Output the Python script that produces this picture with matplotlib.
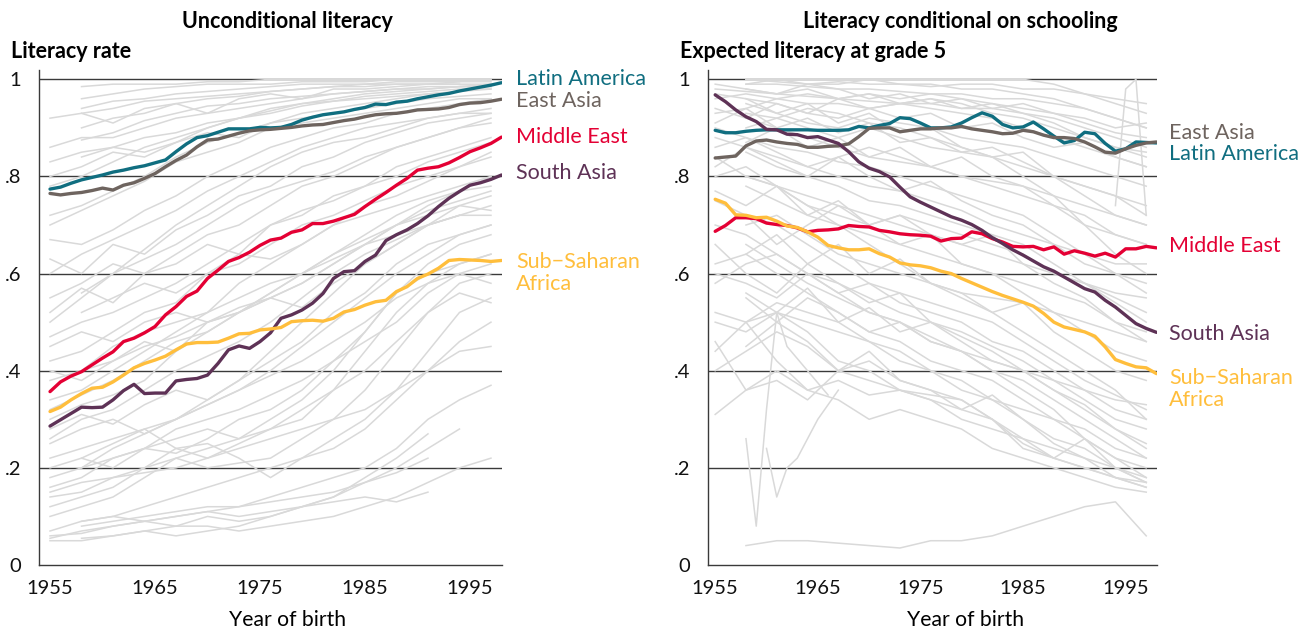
import numpy as np
import matplotlib
matplotlib.use('Agg')
import matplotlib.pyplot as plt

plt.rcParams['font.family'] = ['Lato', 'DejaVu Sans']

years = np.arange(1955, 1999)
grey_years = np.arange(1955, 1998, 3)   # grey country lines read every 3 years

# ---- unconditional literacy, regional averages
unc_latam = [.774, .778, .786, .793, .798, .803, .809, .813, .818, .822,
             .828, .834, .851, .867, .880, .884, .891, .898, .898, .898,
             .901, .900, .901, .907, .916, .922, .927, .930, .933, .938,
             .942, .949, .948, .953, .955, .960, .964, .968, .971, .976,
             .980, .984, .988, .993]
unc_easia = [.765, .762, .765, .767, .771, .776, .772, .782, .787, .796,
             .806, .820, .833, .844, .861, .875, .877, .883, .889, .894,
             .896, .897, .899, .901, .904, .906, .907, .911, .915, .918,
             .923, .927, .929, .930, .933, .937, .938, .939, .942, .948,
             .951, .952, .955, .959]
unc_mideast = [.357, .377, .389, .398, .412, .426, .439, .460, .467, .478,
               .491, .515, .532, .553, .564, .590, .607, .625, .633, .644,
               .658, .669, .673, .685, .690, .703, .703, .708, .715, .722,
               .738, .753, .767, .782, .796, .813, .817, .820, .828, .839,
               .851, .859, .868, .881]
unc_sasia = [.286, .299, .312, .325, .324, .325, .340, .359, .372, .353,
             .354, .354, .379, .382, .384, .391, .415, .443, .451, .446,
             .460, .478, .508, .515, .525, .539, .559, .590, .604, .606,
             .625, .638, .668, .680, .690, .703, .719, .738, .755, .769,
             .782, .787, .794, .803]
unc_ssa = [.316, .325, .340, .353, .364, .366, .377, .391, .406, .415,
           .422, .430, .443, .455, .458, .458, .459, .467, .476, .477,
           .484, .486, .489, .501, .503, .504, .502, .508, .521, .526,
           .535, .542, .545, .563, .573, .590, .599, .611, .627, .629,
           .628, .627, .625, .627]

# ---- literacy conditional on schooling, regional averages
cond_latam = [.895, .890, .890, .893, .895, .896, .896, .896, .896, .896,
              .895, .895, .895, .896, .903, .900, .905, .909, .921, .919,
              .910, .900, .900, .902, .910, .921, .931, .924, .907, .900,
              .902, .912, .898, .883, .869, .874, .891, .888, .868, .852,
              .857, .871, .870, .869]
cond_easia = [.838, .840, .842, .863, .873, .875, .871, .868, .866, .860,
              .860, .862, .863, .867, .882, .899, .900, .900, .892, .895,
              .898, .898, .900, .900, .903, .898, .895, .892, .888, .889,
              .895, .892, .885, .880, .880, .878, .871, .861, .850, .848,
              .857, .864, .869, .871]
cond_mideast = [.687, .699, .715, .715, .713, .704, .701, .699, .694, .686,
                .689, .690, .692, .699, .697, .696, .689, .686, .682, .680,
                .679, .677, .667, .672, .673, .686, .682, .672, .665, .656,
                .655, .656, .649, .655, .640, .647, .642, .636, .642, .634,
                .651, .651, .656, .653]
cond_sasia = [.968, .954, .937, .923, .913, .897, .896, .887, .886, .880,
              .882, .875, .868, .851, .830, .817, .810, .799, .778, .758,
              .747, .737, .727, .717, .710, .701, .689, .674, .662, .649,
              .638, .626, .614, .605, .593, .581, .569, .562, .545, .531,
              .514, .497, .487, .479]
cond_ssa = [.753, .745, .721, .720, .715, .716, .708, .698, .695, .686,
            .675, .658, .653, .649, .649, .651, .641, .634, .622, .618,
            .616, .612, .605, .600, .590, .581, .572, .563, .555, .548,
            .541, .533, .518, .500, .490, .485, .480, .471, .449, .423,
            .415, .408, .406, .394]

N = None
# ---- grey country lines, unconditional panel (1955, 1958, ..., 1997)
unc_countries = [
    [N, .96, .97, .98, .985, .99, .99, .99, .995, .995, .995, 1.0, 1.0, 1.0, 1.0],
    [N, .985, .99, .99, .99, .995, .995, 1.0, 1.0, 1.0, 1.0, 1.0, 1.0, 1.0, 1.0],
    [N, .94, .955, .96, .97, .975, .98, .985, .99, .99, .99, .995, .995, .995, .995],
    [.92, .93, .94, .955, .96, .965, .97, .975, .98, .985, .985, .99, .99, .99, .99],
    [N, .90, .92, .93, .95, .96, .965, .975, .98, .985, .99, .99, .99, .995, N],
    [N, .875, .89, .915, .93, .945, .95, .96, .965, .97, .975, .98, .98, .985, .985],
    [.86, .88, .88, .90, .92, .93, .94, .95, .96, .97, .975, .98, .985, .985, .985],
    [N, .84, .86, .85, .87, .90, .92, .93, .945, .955, .965, .97, .975, .98, .98],
    [.83, .85, .86, .88, .89, .91, .92, .935, .95, .955, .96, .965, .97, .975, N],
    [.72, .74, .77, .80, .84, .87, .89, .91, .92, .93, .94, .95, .96, .965, .97],
    [.70, .73, .76, .79, .83, .85, .87, .90, .91, .92, .93, .94, .95, .96, .96],
    [.67, .66, .69, .73, .76, .80, .83, .86, .88, .90, .91, .93, .94, .95, .96],
    [.60, .64, .67, .70, .73, .77, .80, .83, .86, .88, .90, .91, .92, .93, .94],
    [N, .56, .60, .65, .70, .74, .78, .82, .85, .87, .88, .90, .92, .93, .93],
    [.50, .55, .60, .63, .66, .70, .74, .77, .79, .81, .84, .86, .88, .90, .91],
    [.47, .50, .52, .55, .58, .62, .66, .70, .73, .75, .78, .80, .83, .85, .87],
    [.42, .44, .48, .52, .54, .60, .62, .66, .70, .72, .75, .78, .80, .82, .84],
    [.38, .40, .45, .48, .50, .52, .55, .58, .60, .63, .66, .70, .74, .77, .80],
    [.34, .36, .40, .44, .48, .52, .58, .62, .66, .70, .72, .74, .76, .78, .80],
    [.30, .33, .35, .38, .44, .50, .52, .56, .60, .64, .68, .72, .75, .77, .78],
    [.26, .30, .32, .36, .40, .43, .46, .50, .55, .60, .64, .67, .70, .72, .72],
    [.45, .48, .46, .50, .52, .50, .53, .55, .58, .62, .66, .70, .72, .74, .73],
    [N, .52, .55, .58, .56, .60, .64, .63, .66, .70, .74, .76, .79, .82, .85],
    [.22, .24, .26, .28, .30, .34, .38, .44, .50, .56, .62, .66, .70, .74, .76],
    [.18, .20, .24, .27, .30, .33, .36, .40, .45, .50, .55, .60, .64, .68, .70],
    [.16, .18, .22, .24, .28, .30, .32, .35, .38, .42, .48, .56, .62, .66, .68],
    [.14, .15, .18, .20, .22, .24, .26, .28, .30, .36, .44, .52, .58, .62, .64],
    [N, .20, .22, .24, .23, .26, .30, .32, .36, .42, .46, .50, .56, .60, .62],
    [.25, .28, .30, .27, .30, .33, .36, .39, .42, .46, .50, .55, .58, .60, .58],
    [.32, .35, .38, .42, .46, .48, .52, .55, .58, .62, .66, .68, .70, .72, N],
    [N, .40, .42, .45, .47, .50, .52, .56, .60, .64, .67, .70, .73, .75, .77],
    [N, .22, .25, .28, .24, .22, .25, .28, .32, .36, .40, .46, .52, .56, .54],
    [.12, .14, .16, .20, .24, .25, .22, .18, .22, .26, .30, .36, .44, .52, .55],
    [.07, .09, .10, .12, .14, .16, .18, .20, .22, .24, .28, .34, .40, .46, .50],
    [.055, .07, .08, .09, .10, .11, .12, .14, .16, .18, .20, .24, .30, .34, .37],
    [.06, .065, .08, .09, .08, .10, .09, .10, .12, .14, .17, .20, .24, .28, N],
    [N, .055, .06, .07, .08, .08, .07, .08, .09, .10, .12, .14, .17, .20, .22],
    [N, .09, .10, .09, .10, .11, .10, .11, .12, .13, .14, .13, .15, N, N],
    [.05, .05, .06, .07, .06, .07, .08, .10, .12, .14, .18, .22, .27, N, N],
    [.10, .12, .14, .18, .22, .20, .21, .22, .26, .30, .36, .44, .52, .58, .60],
    [.20, .22, .20, .24, .26, .28, .26, .30, .34, .40, .48, .56, .60, .62, .64],
    [.15, .17, .18, .19, .20, .22, .24, .26, .28, .30, .32, .36, .40, .44, .45],
    [N, .08, .09, .10, .11, .12, .12, .13, .14, .15, .17, .19, .22, N, N],
    [.55, .58, .62, .60, .64, .68, .70, .74, .78, .80, .83, .86, .88, .90, .92],
    [.78, .80, .83, .86, .88, .90, .92, .94, .95, .96, .97, .975, .98, .985, .99],
    [N, .93, .91, .94, .95, .93, .96, .97, .96, .98, .98, .985, .99, .99, N],
    [.80, .82, .85, .84, .87, .89, .88, .91, .93, .94, .95, .96, .97, .975, .98],
    [.63, .60, .66, .64, .69, .72, .76, .78, .82, .84, .87, .89, .91, .92, .93],
    [.52, .57, .54, .60, .62, .66, .64, .70, .72, .76, .78, .82, .84, .86, .88],
    [.40, .38, .42, .46, .44, .48, .52, .55, .53, .58, .62, .66, .70, .72, .74],
    [.28, .31, .29, .33, .36, .34, .38, .42, .46, .52, .56, .62, .66, .68, .70],
]

# ---- grey country lines, conditional panel (1955, 1958, ..., 1997)
cond_countries = [
    [N, 1.0, 1.0, 1.0, 1.0, 1.0, 1.0, 1.0, 1.0, 1.0, 1.0, .99, .97, .95, .93],
    [N, .99, .99, .985, .98, .98, .975, .97, .97, .96, .96, .95, .94, .92, .90],
    [.98, .975, .97, .965, .96, .955, .95, .95, .94, .94, .93, .92, .90, .88, .86],
    [.97, .96, .95, .93, .92, .94, .95, .96, .95, .93, .92, .90, .88, .86, .84],
    [N, .95, .93, .91, .90, .92, .91, .90, .88, .87, .86, .84, .82, .80, .78],
    [.94, .92, .90, .88, .86, .84, .83, .82, .80, .79, .78, .76, .74, .72, .70],
    [N, .93, .92, .94, .93, .91, .90, .88, .86, .84, .80, .76, .70, .64, .60],
    [.90, .88, .86, .85, .83, .82, .80, .78, .76, .74, .72, .68, .64, .60, .56],
    [N, .85, .82, .80, .78, .75, .74, .72, .70, .68, .66, .62, .58, .54, .50],
    [.88, .86, .84, .82, .80, .78, .77, .75, .73, .70, .68, .66, .64, .62, .62],
    [N, .80, .78, .76, .74, .72, .70, .68, .66, .64, .62, .60, .58, .56, .55],
    [.84, .80, .78, .74, .70, .68, .66, .64, .62, .60, .58, .56, .54, .50, .46],
    [N, .78, .75, .72, .70, .66, .62, .58, .55, .52, .48, .44, .40, .36, .30],
    [.75, .72, .70, .66, .62, .58, .56, .54, .52, .50, .46, .42, .38, .35, .32],
    [.70, .68, .64, .60, .58, .55, .52, .50, .47, .44, .40, .36, .32, .28, .24],
    [N, .66, .62, .58, .55, .52, .50, .47, .44, .40, .36, .32, .26, .22, .20],
    [.52, .50, .54, .52, .50, .46, .42, .40, .36, .34, .32, .30, .26, .22, .18],
    [.50, .48, .52, .50, .48, .46, .44, .40, .38, .34, .30, .25, .22, .18, .16],
    [N, .55, .50, .46, .40, .38, .36, .34, .32, .30, .26, .24, .22, .20, .17],
    [N, .04, .05, .05, .045, .04, .035, .05, .05, .06, .08, .10, .12, .13, .06],
    [.44, .50, .42, .36, .38, .35, .36, .34, .30, .28, .26, .22, .20, .18, .16],
    [.31, .36, .40, .36, .34, .30, .32, .30, .28, .24, .22, .20, .18, .16, .15],
    [N, .50, .52, .48, .42, .40, .36, .35, .34, .30, .25, .22, .20, .18, .17],
    [.60, .58, .55, .60, .56, .52, .50, .46, .44, .42, .40, .38, .36, .34, .33],
    [.62, .64, .60, .56, .52, .48, .46, .42, .40, .38, .34, .30, .28, .24, .22],
    [N, .70, .72, .68, .64, .62, .60, .58, .56, .55, .54, .52, .50, .48, .46],
    [.80, .82, .78, .74, .72, .70, .72, .70, .68, .66, .64, .60, .58, .55, .52],
    [.86, .88, .85, .82, .84, .86, .84, .82, .80, .78, .76, .74, .70, .68, .66],
    [N, .90, .92, .90, .88, .90, .88, .86, .85, .84, .82, .80, .78, .76, .74],
    [.96, .97, .96, .95, .95, .94, .95, .94, .93, .92, .90, .88, .86, .84, .82],
    [N, .99, 1.0, .99, .99, 1.0, .99, .99, .98, .98, .97, .96, .94, .92, .90],
    [N, 1.0, .995, .99, .995, .99, .99, .985, .99, .99, .98, .98, .97, .96, .95],
    [.93, .94, .96, .97, .96, .97, .96, .97, .96, .95, .94, .93, .91, .89, .88],
    [N, .72, .66, .70, .74, .70, .66, .68, .62, .60, .56, .52, .48, .44, .42],
    [.58, .62, .64, .60, .56, .58, .54, .52, .50, .46, .44, .40, .36, .32, .30],
    [N, .45, .50, .55, .52, .48, .50, .46, .44, .40, .38, .34, .30, .26, .22],
    [.46, .36, .38, .34, .40, .44, .38, .36, .34, .30, .24, .22, .26, .20, .17],
    [.99, .98, .97, .99, .98, .96, .97, .95, .96, .94, .95, .93, .92, .90, .91],
    [N, .92, .95, .93, .96, .94, .92, .93, .90, .91, .88, .86, .87, .84, .82],
    [.91, .94, .90, .92, .89, .91, .87, .88, .85, .86, .83, .80, .78, .76, .72],
    [N, .87, .90, .86, .88, .84, .86, .82, .84, .80, .78, .74, .72, .68, .66],
    [.82, .86, .83, .80, .84, .80, .77, .79, .75, .72, .70, .66, .62, .60, .58],
    [N, .96, .93, .95, .91, .93, .89, .90, .86, .84, .85, .80, .76, .72, .70],
    [.77, .74, .78, .72, .75, .70, .72, .68, .66, .68, .62, .58, .55, .50, .48],
    [N, .64, .68, .62, .66, .60, .63, .58, .56, .52, .54, .48, .44, .40, .38],
    [.66, .60, .56, .62, .58, .54, .56, .50, .48, .45, .42, .38, .34, .30, .28],
    [N, .98, .97, .98, .96, .97, .95, .96, .94, .95, .93, .91, .88, .86, .85],
    [N, .56, .52, .57, .50, .53, .48, .50, .46, .42, .40, .36, .33, .28, .25],
    [.40, .44, .48, .45, .40, .42, .38, .36, .32, .35, .30, .26, .24, .20, .18],
]
# a few jumpy countries read year by year
cond_spiky = [
    ([1958, 1959, 1960, 1961, 1962, 1964, 1966], [.26, .08, .32, .52, .45, .40, .35]),
    ([1960, 1961, 1962, 1963, 1964, 1965, 1967], [.24, .14, .20, .22, .26, .30, .36]),
    ([1994, 1995, 1996, 1997], [.74, .98, 1.0, .72]),
]

region_names = ['Latin America', 'East Asia', 'Middle East', 'South Asia', 'Sub−Saharan\nAfrica']
region_colors = ['#106E80', '#6E645F', '#E40034', '#5E3256', '#FFBE3C']
unc_series = [unc_latam, unc_easia, unc_mideast, unc_sasia, unc_ssa]
cond_series = [cond_latam, cond_easia, cond_mideast, cond_sasia, cond_ssa]
unc_label_y = [1.0, .955, .882, .807, .601]
cond_label_y = [.846, .889, .656, .475, .362]

fig = plt.figure(figsize=(13.08, 6.32), dpi=100)
ax1 = fig.add_axes([39/1308, 67/632, 463/1308, 495.4/632])
ax2 = fig.add_axes([708/1308, 67/632, 449/1308, 495.4/632])


def draw_panel(ax, countries, spiky, series, label_y, x0, lab_x):
    for c in countries:
        ax.plot(grey_years, np.array(c, dtype=float), color='#D9D9D9', lw=1.1, zorder=2)
    for yrs, vals in spiky:
        ax.plot(yrs, vals, color='#D9D9D9', lw=1.1, zorder=2)
    for s, col in zip(series, region_colors):
        ax.plot(years, s, color=col, lw=2.4, zorder=3, solid_capstyle='round')
    for name, col, ly in zip(region_names, region_colors, label_y):
        ax.text(lab_x, ly, name, color=col, fontsize=15.5, va='center', ha='left',
                clip_on=False, linespacing=1.1)
    ax.set_xlim(x0, 1998.05)
    ax.set_ylim(0, 1.02)
    ax.set_yticks([0, .2, .4, .6, .8, 1])
    ax.set_yticklabels(['0', '.2', '.4', '.6', '.8', '1'])
    ax.set_xticks([1955, 1965, 1975, 1985, 1995])
    ax.tick_params(axis='both', length=0, labelsize=14.5, colors='#111111')
    ax.tick_params(axis='y', pad=13)
    ax.tick_params(axis='x', pad=11)
    for v in [.2, .4, .6, .8, 1.0]:
        ax.axhline(v, color='#3a3a3a', lw=1.0, zorder=1)
    for sp in ['top', 'right']:
        ax.spines[sp].set_visible(False)
    for sp in ['left', 'bottom']:
        ax.spines[sp].set_color('#3a3a3a')
        ax.spines[sp].set_linewidth(1.0)


draw_panel(ax1, unc_countries, [], unc_series, unc_label_y, 1953.95, 1999.4)
draw_panel(ax2, cond_countries, cond_spiky, cond_series, cond_label_y, 1954.3, 1999.2)

fig.text(287/1308, 1 - 22/632, 'Unconditional literacy', ha='center', va='center',
         fontsize=15.5, fontweight='bold')
fig.text(960/1308, 1 - 22/632, 'Literacy conditional on schooling', ha='center', va='center',
         fontsize=15.5, fontweight='bold')
fig.text(11/1308, 1 - 52/632, 'Literacy rate', ha='left', va='center',
         fontsize=15.5, fontweight='bold')
fig.text(680/1308, 1 - 52/632, 'Expected literacy at grade 5', ha='left', va='center',
         fontsize=15.5, fontweight='bold')
fig.text(288/1308, 1 - 620/632, 'Year of birth', ha='center', va='center', fontsize=15.2)
fig.text(966/1308, 1 - 620/632, 'Year of birth', ha='center', va='center', fontsize=15.2)

fig.savefig('out.png', dpi=100)
